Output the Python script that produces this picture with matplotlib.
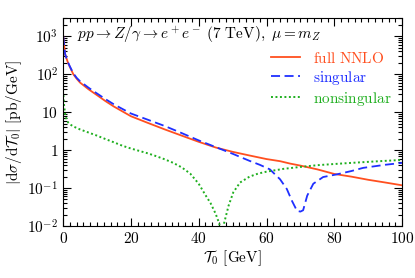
import matplotlib
matplotlib.use("Agg")
import matplotlib.pyplot as plt
from matplotlib.ticker import LogLocator, MultipleLocator

plt.rcParams['mathtext.fontset'] = 'cm'
plt.rcParams['font.family'] = ['DejaVu Serif']
plt.rcParams['font.size'] = 11

# valori (Tau0 in GeV, sezione d'urto in pb/GeV)
tau_full = [0.05, 0.3, 0.6, 1, 1.5, 2, 3, 4, 5, 7.5, 10, 12.5, 15, 20, 25, 30, 35, 40, 45,
            50, 55, 60, 64, 67, 70, 75, 80, 85, 90, 95, 100]
full_nnlo = [1000, 580, 335, 260, 195, 155, 100, 76, 60, 40, 28, 19.5, 14, 7.8, 5.2, 3.5, 2.4,
             1.65, 1.17, 0.9, 0.72, 0.58, 0.51, 0.44, 0.39, 0.31, 0.235, 0.2, 0.165, 0.14, 0.118]

tau_sing = [0.05, 0.3, 0.6, 1, 1.5, 2, 3, 4, 5, 7.5, 10, 12.5, 15, 20, 25, 30, 35, 40, 45,
            50, 55, 58, 61, 64, 66, 67.5, 69, 70, 70.8, 72, 73.8, 76.7, 80.8, 85, 88.5, 95, 100]
singular = [1000, 585, 340, 262, 200, 160, 106, 80, 65, 44, 31, 22, 16, 9.2, 6.3, 4.3, 2.8, 1.8, 1.2,
            0.8, 0.52, 0.41, 0.31, 0.17, 0.094, 0.046, 0.025, 0.024, 0.026, 0.063, 0.13, 0.195, 0.23,
            0.28, 0.34, 0.41, 0.46]

tau_nons = [0.1, 0.3, 0.6, 1, 1.5, 2, 3, 5, 7.5, 10, 12.5, 15, 17.5, 20, 22.5, 25, 27.5, 30,
            32.5, 35, 37.5, 40, 42, 43.5, 45, 46, 46.8, 47.5, 48.8, 50.2, 52.2, 55, 57.5, 60,
            65, 70, 75, 80, 85, 90, 95, 100]
nonsingular = [28, 15, 9, 6.5, 5.3, 4.8, 4.2, 3.5, 2.9, 2.4, 1.95, 1.6, 1.3, 1.1, 0.95, 0.82, 0.69,
               0.57, 0.46, 0.35, 0.24, 0.13, 0.065, 0.04, 0.021, 0.012, 0.006, 0.012, 0.034, 0.077,
               0.14, 0.2, 0.24, 0.27, 0.32, 0.36, 0.4, 0.43, 0.46, 0.49, 0.52, 0.55]

c_red = '#ff4f1f'
c_blue = '#1f2fff'
c_green = '#1faf1f'

fig = plt.figure(figsize=(4.15, 2.78), dpi=100)
ax = fig.add_axes([0.152, 0.187, 0.817, 0.748])

ax.plot(tau_full, full_nnlo, color=c_red, lw=1.3, label=r'$\mathrm{full\ NNLO}$')
ax.plot(tau_sing, singular, color=c_blue, lw=1.3, ls=(0, (5, 2.5)), label=r'$\mathrm{singular}$')
ax.plot(tau_nons, nonsingular, color=c_green, lw=1.4, ls=(0, (1, 1.3)), label=r'$\mathrm{nonsingular}$')

ax.set_yscale('log')
ax.set_xlim(0, 100)
ax.set_ylim(1e-2, 3e3)

# tick come nello stile dei paper
ax.xaxis.set_minor_locator(MultipleLocator(2))
ax.yaxis.set_minor_locator(LogLocator(base=10, subs=range(2, 10), numticks=20))
ax.set_yticks([1e-2, 1e-1, 1, 10, 1e2, 1e3])
ax.set_yticklabels([r'$10^{-2}$', r'$10^{-1}$', r'$1$', r'$10$', r'$10^{2}$', r'$10^{3}$'])
ax.set_xticks([0, 20, 40, 60, 80, 100])
ax.set_xticklabels([r'$0$', r'$20$', r'$40$', r'$60$', r'$80$', r'$100$'])
ax.tick_params(which='both', direction='in', top=True, right=True, labelsize=11, width=0.8)
ax.tick_params(which='major', length=6)
ax.tick_params(which='minor', length=3)
for s in ax.spines.values():
    s.set_linewidth(0.8)

ax.set_xlabel(r'$\mathcal{T}_0\ [\mathrm{GeV}]$', fontsize=11, labelpad=2)
ax.set_ylabel(r'$|\mathrm{d}\sigma/\mathrm{d}\mathcal{T}_0|\ [\mathrm{pb/GeV}]$', fontsize=11, labelpad=2)

ax.text(0.04, 0.965, r'$pp\to Z/\gamma\to e^+e^-\ \mathrm{(7\ TeV)},\ \mu=m_Z$',
        transform=ax.transAxes, fontsize=11, va='top', ha='left')

leg = ax.legend(loc='upper right', bbox_to_anchor=(1.0, 0.895), frameon=False, fontsize=11,
                handlelength=1.9, handletextpad=0.8, labelspacing=0.2, borderaxespad=0.3)
for t, c in zip(leg.get_texts(), [c_red, c_blue, c_green]):
    t.set_color(c)

fig.savefig('out.png', dpi=100)
